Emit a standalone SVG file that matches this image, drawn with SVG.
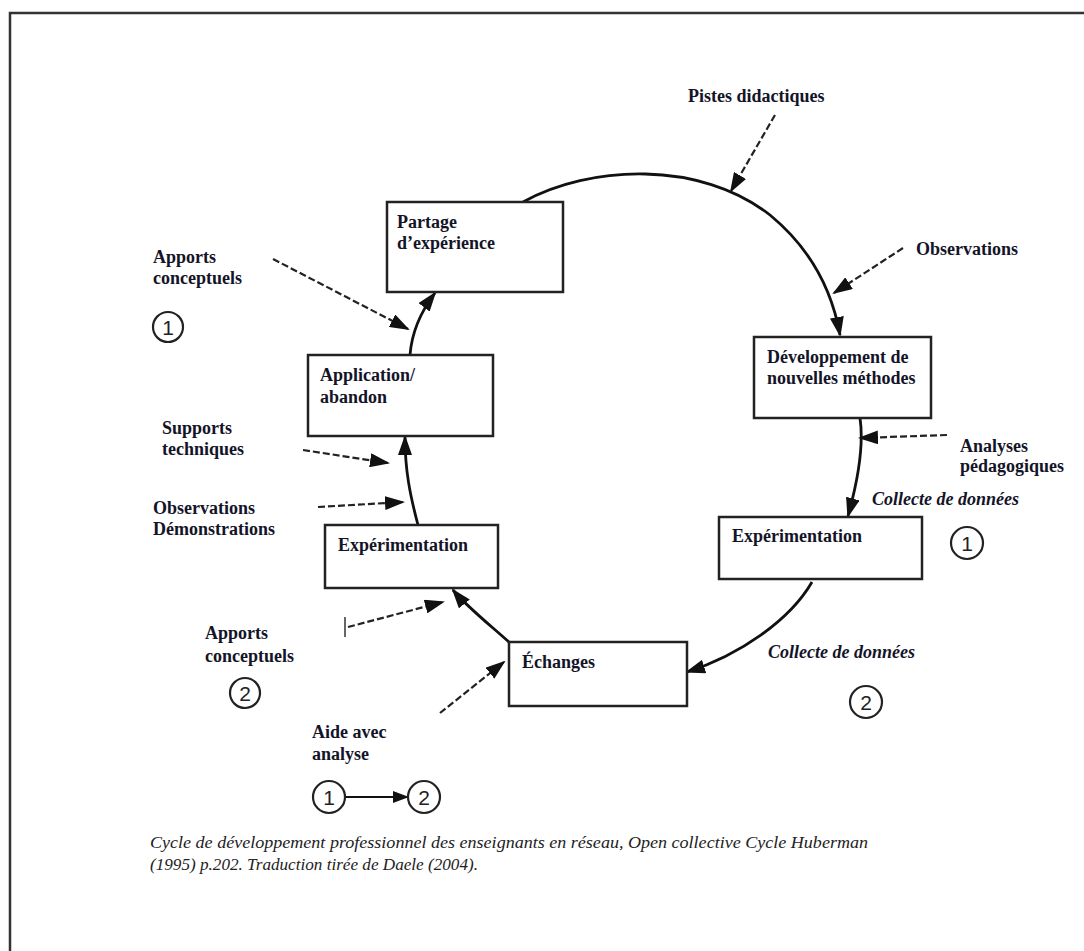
<svg xmlns="http://www.w3.org/2000/svg" width="1084" height="951" viewBox="0 0 1084 951">
<style>
.lbl{font-family:"Liberation Serif","Times New Roman",serif;font-size:18px;font-weight:bold;fill:#141428}
.it{font-family:"Liberation Serif","Times New Roman",serif;font-size:18px;font-weight:bold;font-style:italic;fill:#141428}
.cap{font-family:"Liberation Serif","Times New Roman",serif;font-size:16px;font-style:italic;fill:#222}
.num{font-family:"Liberation Sans",Arial,sans-serif;font-size:21px;fill:#222;text-anchor:middle}
.box{fill:#fff;stroke:#222;stroke-width:2.5}
.ring{fill:#fff;stroke:#222;stroke-width:2.2}
.solid{fill:none;stroke:#111;stroke-width:2.8}
.dash{fill:none;stroke:#222;stroke-width:2.2;stroke-dasharray:7 3}
.frame{stroke:#333;stroke-width:2.5;fill:none}
</style>
<defs>
<marker id="ah" viewBox="0 0 20 14" markerWidth="20" markerHeight="14" refX="18" refY="7" orient="auto" markerUnits="userSpaceOnUse">
<path d="M0,0 L20,7 L0,14 z" fill="#111"/>
</marker>
<marker id="ahs" viewBox="0 0 16 12" markerWidth="16" markerHeight="12" refX="15" refY="6" orient="auto" markerUnits="userSpaceOnUse">
<path d="M0,0 L16,6 L0,12 z" fill="#111"/>
</marker>
</defs>
<rect width="1084" height="951" fill="#fff"/>
<path class="frame" d="M10,951 V13 H1084"/>

<g id="connectors">
<path class="solid" d="M523,202 C590,165 700,160 770,215 C810,248 832,290 840,335" marker-end="url(#ah)"/>
<path class="solid" d="M860,418 C864,445 858,480 848,516" marker-end="url(#ah)"/>
<path class="solid" d="M812,582 C790,620 740,655 687,672" marker-end="url(#ah)"/>
<path class="solid" d="M510,643 C490,625 466,606 453,590" marker-end="url(#ah)"/>
<path class="solid" d="M418,525 C410,495 405,470 405,437" marker-end="url(#ah)"/>
<path class="solid" d="M410,355 C412,330 422,310 435,293" marker-end="url(#ah)"/>
<path class="dash" d="M775,115 L731,191" marker-end="url(#ah)"/>
<path class="dash" d="M903,248 L834,293" marker-end="url(#ah)"/>
<path class="dash" d="M273,259 L408,329" marker-end="url(#ah)"/>
<path class="dash" d="M303,450 L388,463" marker-end="url(#ah)"/>
<path class="dash" d="M318,507 L403,502" marker-end="url(#ah)"/>
<path class="dash" d="M348,627 L443,602" marker-end="url(#ah)"/>
<path d="M345,617 V637" stroke="#333" stroke-width="1.5"/>
<path class="dash" d="M440,713 L504,662" marker-end="url(#ah)"/>
<path class="dash" d="M947,435 L860,438" marker-end="url(#ah)"/>
<path d="M345,797 H408" stroke="#111" stroke-width="2" marker-end="url(#ahs)"/>
</g>

<g id="node-partage">
<rect class="box" x="387" y="202" width="176" height="90"/>
<text class="lbl" x="397" y="228">Partage</text>
<text class="lbl" x="397" y="249">d’expérience</text>
</g>
<g id="node-application">
<rect class="box" x="308" y="355" width="185" height="81"/>
<text class="lbl" x="320" y="381">Application/</text>
<text class="lbl" x="320" y="403">abandon</text>
</g>
<g id="node-experimentation-left">
<rect class="box" x="325" y="525" width="173" height="63"/>
<text class="lbl" x="338" y="551">Expérimentation</text>
</g>
<g id="node-echanges">
<rect class="box" x="509" y="642" width="178" height="64"/>
<text class="lbl" x="522" y="668">Échanges</text>
</g>
<g id="node-developpement">
<rect class="box" x="754" y="337" width="177" height="81"/>
<text class="lbl" x="767" y="363">Développement de</text>
<text class="lbl" x="767" y="384">nouvelles méthodes</text>
</g>
<g id="node-experimentation-right">
<rect class="box" x="719" y="517" width="203" height="62"/>
<text class="lbl" x="732" y="542">Expérimentation</text>
</g>

<g id="labels">
<text class="lbl" x="688" y="102">Pistes didactiques</text>
<text class="lbl" x="916" y="255">Observations</text>
<text class="lbl" x="153" y="263">Apports</text>
<text class="lbl" x="153" y="284">conceptuels</text>
<text class="lbl" x="162" y="434">Supports</text>
<text class="lbl" x="162" y="455">techniques</text>
<text class="lbl" x="153" y="514">Observations</text>
<text class="lbl" x="153" y="535">Démonstrations</text>
<text class="lbl" x="205" y="639">Apports</text>
<text class="lbl" x="205" y="662">conceptuels</text>
<text class="lbl" x="312" y="738">Aide avec</text>
<text class="lbl" x="312" y="760">analyse</text>
<text class="lbl" x="960" y="452">Analyses</text>
<text class="lbl" x="960" y="472">pédagogiques</text>
<text class="it" x="872" y="505">Collecte de données</text>
<text class="it" x="768" y="658">Collecte de données</text>
</g>

<g id="circles">
<circle class="ring" cx="168" cy="327" r="15"/><text class="num" x="168" y="335">1</text>
<circle class="ring" cx="245" cy="693" r="15"/><text class="num" x="245" y="701">2</text>
<circle class="ring" cx="329" cy="797" r="16"/><text class="num" x="329" y="805">1</text>
<circle class="ring" cx="424" cy="797" r="16"/><text class="num" x="424" y="805">2</text>
<circle class="ring" cx="967" cy="543" r="16"/><text class="num" x="967" y="551">1</text>
<circle class="ring" cx="866" cy="702" r="16"/><text class="num" x="866" y="710">2</text>
</g>

<g id="caption">
<text class="cap" x="150" y="848" textLength="718" lengthAdjust="spacingAndGlyphs">Cycle de développement professionnel des enseignants en réseau, Open collective Cycle Huberman</text>
<text class="cap" x="150" y="870" textLength="328" lengthAdjust="spacingAndGlyphs">(1995) p.202. Traduction tirée de Daele (2004).</text>
</g>
</svg>
